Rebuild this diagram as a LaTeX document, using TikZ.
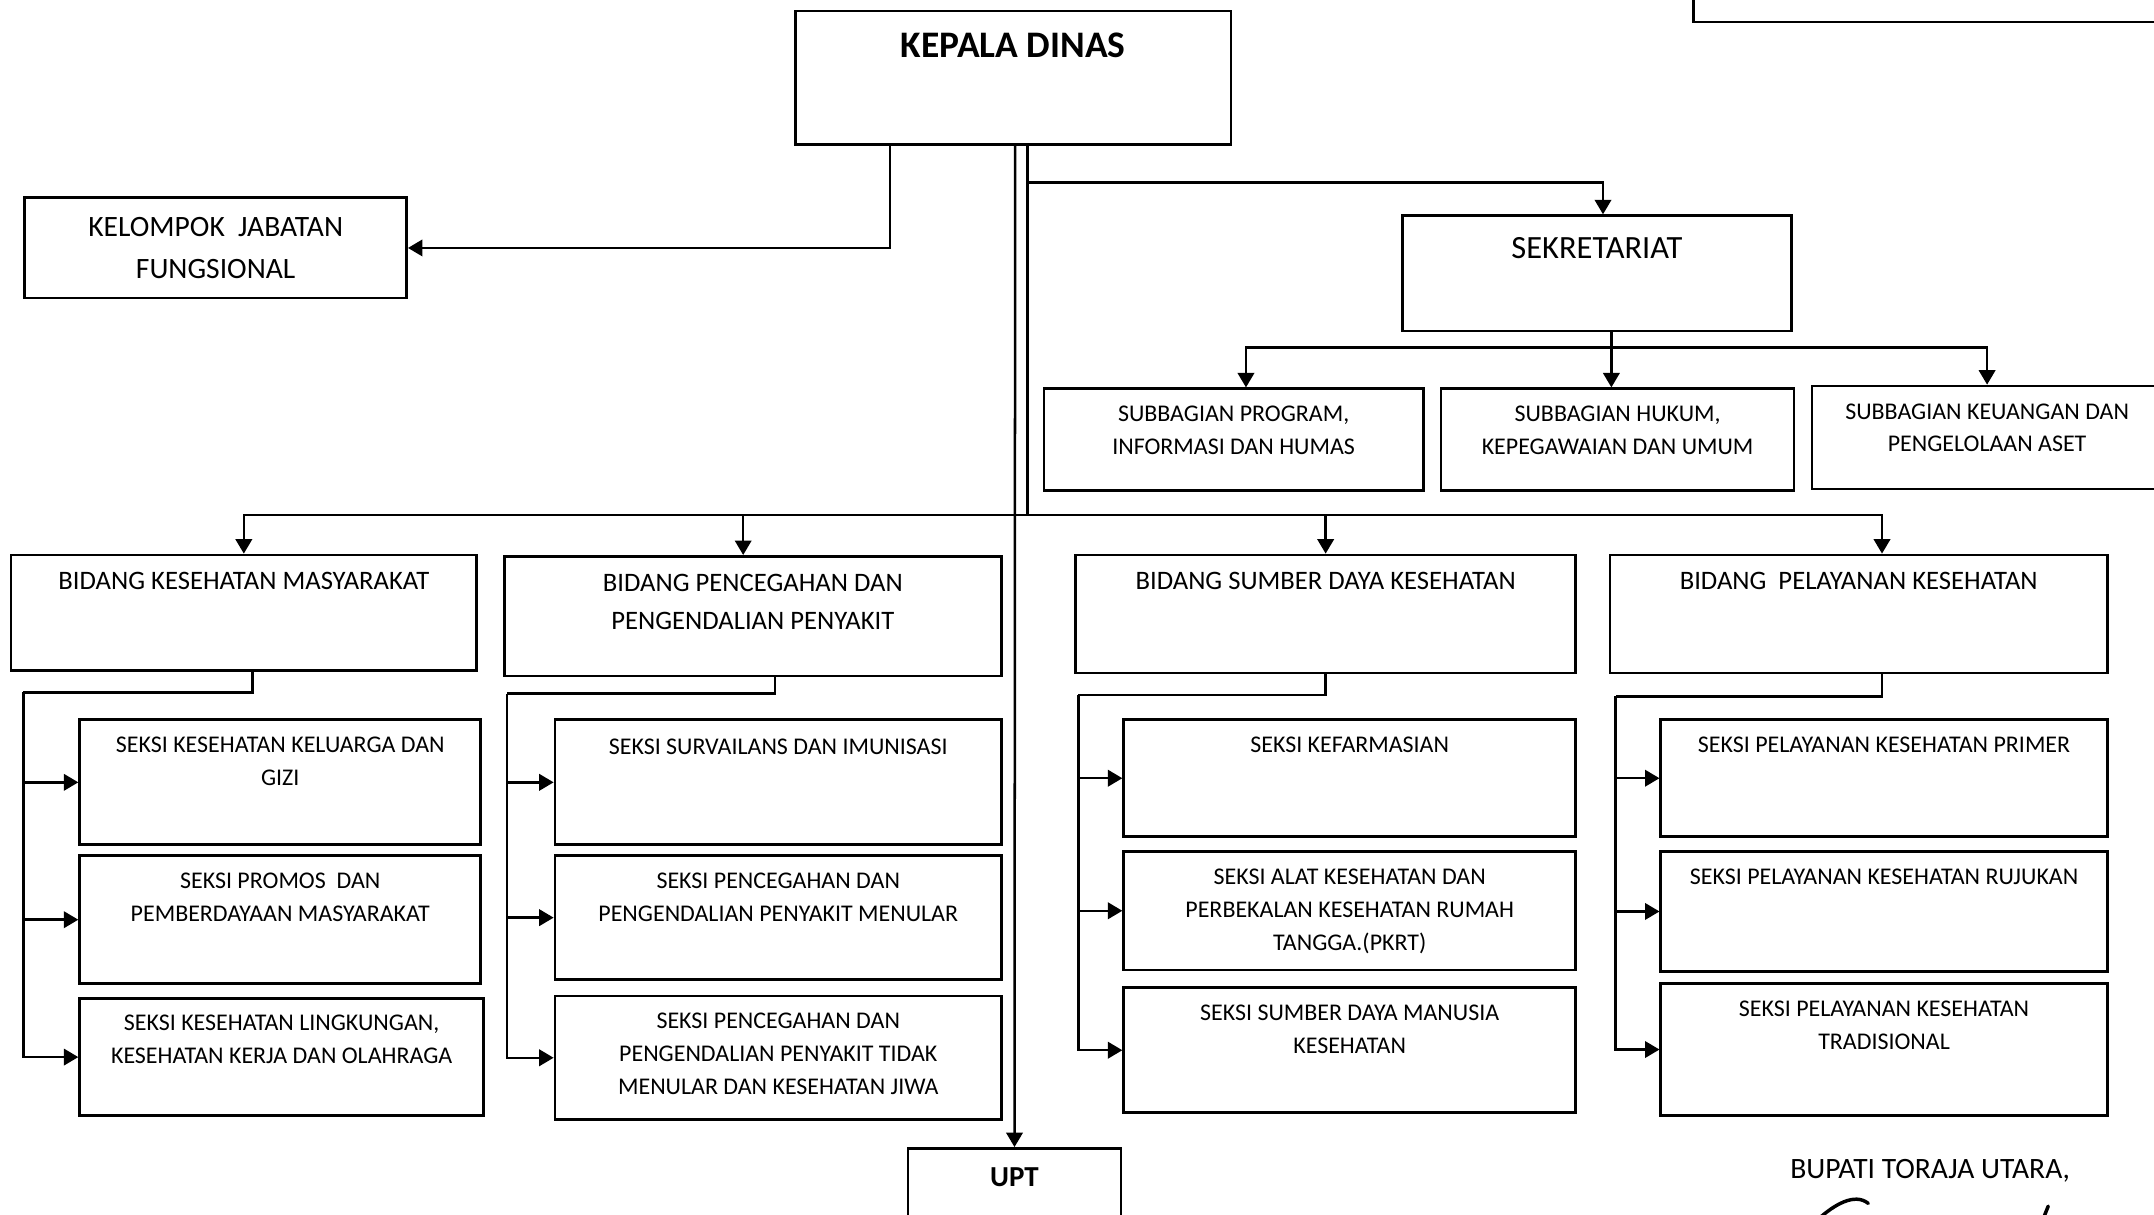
\documentclass[tikz,border=0pt]{standalone}
\usepackage{fontspec}
\setmainfont{Carlito}
\usetikzlibrary{positioning,fit,arrows.meta}

\begin{document}
\begin{tikzpicture}[x=0.25mm, y=-0.25mm,
    unit/.style={draw, line width=1.4pt, inner sep=0pt},
    lbl/.style={align=center, inner sep=0pt, font=\fontsize{12.4}{17}\selectfont},
    bidlbl/.style={align=center, inner sep=0pt, font=\fontsize{13.8}{19.9}\selectfont},
    toplbl/.style={align=center, inner sep=0pt, font=\fontsize{15.3}{21.3}\selectfont},
    link/.style={line width=1.3pt},
    arr/.style={link, -{Triangle[length=7.5pt,width=8.5pt]}}]
    \useasboundingbox (0,0) rectangle (1568,884);

    % pimpinan
    \node[unit, fit={(579,8) (896,105)}] (kd) {};
    \node[toplbl, font=\bfseries\fontsize{19.4}{24}\selectfont, below=4.1mm of kd.north] (kdText) {KEPALA DINAS};
    \node[unit, fit={(18,144) (296,217)}] (kjf) {};
    \node[toplbl, below=3.8mm of kjf.north] (kjfText) {KELOMPOK~ JABATAN\\FUNGSIONAL};
    \node[unit, fit={(1233,-60) (1590,16)}] (nomor) {};

    % sekretariat
    \node[unit, fit={(1021,157) (1304,241)}] (sek) {};
    \node[toplbl, font=\fontsize{16.8}{20}\selectfont, below=4.1mm of sek.north] (sekText) {SEKRETARIAT};
    \node[unit, fit={(760,283) (1036,357)}] (sb1) {};
    \node[lbl, below=3.35mm of sb1.north] (sb1Text) {SUBBAGIAN PROGRAM,\\INFORMASI DAN HUMAS};
    \node[unit, fit={(1049,283) (1306,357)}] (sb2) {};
    \node[lbl, below=3.35mm of sb2.north] (sb2Text) {SUBBAGIAN HUKUM,\\KEPEGAWAIAN DAN UMUM};
    \node[unit, fit={(1319,281) (1574,356)}] (sb3) {};
    \node[lbl, below=3.35mm of sb3.north] (sb3Text) {SUBBAGIAN KEUANGAN DAN\\PENGELOLAAN ASET};

    % bidang
    \node[unit, fit={(8,404) (347,488)}] (bkm) {};
    \node[bidlbl, below=3.4mm of bkm.north] (bkmText) {BIDANG KESEHATAN MASYARAKAT};
    \node[unit, fit={(367,405) (729,492)}] (bppp) {};
    \node[bidlbl, below=3.4mm of bppp.north] (bpppText) {BIDANG PENCEGAHAN DAN\\PENGENDALIAN PENYAKIT};
    \node[unit, fit={(783,404) (1147,490)}] (bsdk) {};
    \node[bidlbl, below=3.4mm of bsdk.north] (bsdkText) {BIDANG SUMBER DAYA KESEHATAN};
    \node[unit, fit={(1172,404) (1534,490)}] (bpk) {};
    \node[bidlbl, below=3.4mm of bpk.north] (bpkText) {BIDANG~ PELAYANAN KESEHATAN};

    % seksi
    \node[unit, fit={(58,524) (350,615)}] (s11) {};
    \node[lbl, below=3.35mm of s11.north] (s11Text) {SEKSI KESEHATAN KELUARGA DAN\\GIZI};
    \node[unit, fit={(58,623) (350,716)}] (s12) {};
    \node[lbl, below=3.35mm of s12.north] (s12Text) {SEKSI PROMOS~ DAN\\PEMBERDAYAAN MASYARAKAT};
    \node[unit, fit={(58,727) (352,812)}] (s13) {};
    \node[lbl, below=3.1mm of s13.north] (s13Text) {SEKSI KESEHATAN LINGKUNGAN,\\KESEHATAN KERJA DAN OLAHRAGA};

    \node[unit, fit={(404,524) (729,615)}] (s21) {};
    \node[lbl, below=3.6mm of s21.north] (s21Text) {SEKSI SURVAILANS DAN IMUNISASI};
    \node[unit, fit={(404,623) (729,713)}] (s22) {};
    \node[lbl, below=3.35mm of s22.north] (s22Text) {SEKSI PENCEGAHAN DAN\\PENGENDALIAN PENYAKIT MENULAR};
    \node[unit, fit={(404,725) (729,815)}] (s23) {};
    \node[lbl, below=3.35mm of s23.north] (s23Text) {SEKSI PENCEGAHAN DAN\\PENGENDALIAN PENYAKIT TIDAK\\MENULAR DAN KESEHATAN JIWA};

    \node[unit, fit={(818,524) (1147,609)}] (s31) {};
    \node[lbl, below=3.35mm of s31.north] (s31Text) {SEKSI KEFARMASIAN};
    \node[unit, fit={(818,620) (1147,706)}] (s32) {};
    \node[lbl, below=3.35mm of s32.north] (s32Text) {SEKSI ALAT KESEHATAN DAN\\PERBEKALAN KESEHATAN RUMAH\\TANGGA.(PKRT)};
    \node[unit, fit={(818,719) (1147,810)}] (s33) {};
    \node[lbl, below=3.35mm of s33.north] (s33Text) {SEKSI SUMBER DAYA MANUSIA\\KESEHATAN};

    \node[unit, fit={(1209,524) (1534,609)}] (s41) {};
    \node[lbl, below=3.35mm of s41.north] (s41Text) {SEKSI PELAYANAN KESEHATAN PRIMER};
    \node[unit, fit={(1209,620) (1534,707)}] (s42) {};
    \node[lbl, below=3.35mm of s42.north] (s42Text) {SEKSI PELAYANAN KESEHATAN RUJUKAN};
    \node[unit, fit={(1209,716) (1534,812)}] (s43) {};
    \node[lbl, below=3.35mm of s43.north] (s43Text) {SEKSI PELAYANAN KESEHATAN\\TRADISIONAL};

    % upt
    \node[unit, fit={(661,836) (816,900)}] (upt) {};
    \node[toplbl, font=\bfseries\fontsize{15}{18}\selectfont, below=3.75mm of upt.north] (uptText) {UPT};

    \node[toplbl] (bupati) at (1405,852) {BUPATI TORAJA UTARA,};
    \draw[line width=1.8pt, line cap=round] (1323,888) .. controls (1335,877) and (1350,868) .. (1360,876);
    \draw[line width=1.8pt, line cap=round] (1491,878) -- (1487,888);

    % garis
    \coordinate (spineL) at (739,105);
    \coordinate (spineR) at (748,105);
    \coordinate (kjfJoint) at (648,105);
    \coordinate (sekJoint) at (748,133);
    \coordinate (bus) at (748,375);
    \coordinate (subBus) at (1173,253);

    \draw[arr] (kjfJoint) |- (kjf.east);
    \draw[arr] (spineL) -- (upt.north);
    \draw[link] (spineR) -- (bus);
    \draw[arr] (sekJoint) -| ([xshift=1.1mm]sek.north);

    \draw[arr] (sek.south -| subBus) -- (sb2.north -| subBus);
    \draw[arr] (subBus) -| ([xshift=2.25mm]sb1.north);
    \draw[arr] (subBus) -| (sb3.north);

    \draw[arr] (bus) -| (bkm.north);
    \draw[arr] (bus) -| ([xshift=-1.75mm]bppp.north);
    \draw[arr] (bus) -| (bsdk.north);
    \draw[arr] (bus) -| ([xshift=4.25mm]bpk.north);

    \coordinate (rail1) at (17,504);
    \coordinate (rail2) at (369,505);
    \coordinate (rail3) at (785,506);
    \coordinate (rail4) at (1176,507);

    \draw[link] ([xshift=1.6mm]bkm.south) |- (rail1);
    \draw[arr] (rail1) |- (s11.west);
    \draw[arr] (rail1) |- (s12.west);
    \draw[arr] (rail1) |- (s13.west);

    \draw[link] ([xshift=4mm]bppp.south) |- (rail2);
    \draw[arr] (rail2) |- (s21.west);
    \draw[arr] (rail2) |- (s22.west);
    \draw[arr] (rail2) |- (s23.west);

    \draw[link] (bsdk.south) |- (rail3);
    \draw[arr] (rail3) |- (s31.west);
    \draw[arr] (rail3) |- (s32.west);
    \draw[arr] (rail3) |- (s33.west);

    \draw[link] ([xshift=4.25mm]bpk.south) |- (rail4);
    \draw[arr] (rail4) |- (s41.west);
    \draw[arr] (rail4) |- (s42.west);
    \draw[arr] (rail4) |- (s43.west);
\end{tikzpicture}
\end{document}
